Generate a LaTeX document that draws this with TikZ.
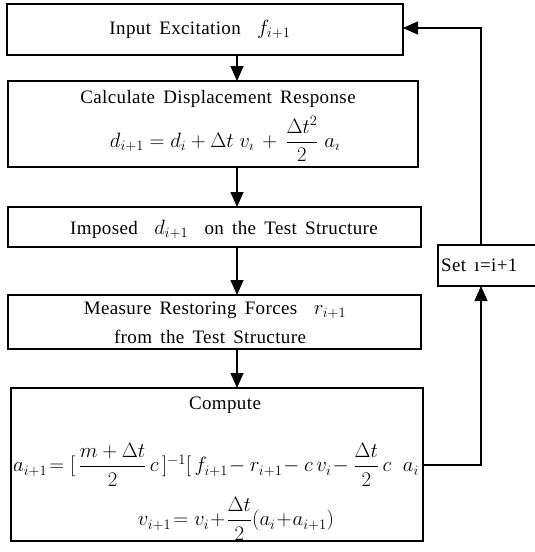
\documentclass[tikz,border=0pt]{standalone}
\usepackage{amsmath}
\usepackage{fontspec}
\setmainfont{Liberation Serif}[LetterSpace=2,WordSpace=1.6]
\usetikzlibrary{arrows.meta}
\newcommand{\mybigmath}[1]{{\fontsize{21}{24}\selectfont$#1$}}
\begin{document}
\begin{tikzpicture}[x=1pt,y=-1pt,
  box/.style={draw, line width=1.5pt, rectangle, inner sep=0pt, outer sep=0pt, anchor=north west},
  txt/.style={inner sep=0pt, font=\fontsize{19}{22}\selectfont},
  eq/.style={inner sep=0pt, font=\fontsize{21.5}{24}\selectfont},
  flow/.style={line width=1.4pt, -{Triangle[length=15pt,width=13pt]}},
  loop/.style={line width=1.1pt, -{Triangle[length=15pt,width=13pt]}}]
\useasboundingbox (0,0) rectangle (535,552);
% boxes
\node[box, minimum width=396pt, minimum height=51pt] (b1) at (7,4) {};
\node[box, minimum width=410pt, minimum height=86pt] (b2) at (8,81) {};
\node[box, minimum width=413pt, minimum height=40pt] (b3) at (8,207) {};
\node[box, minimum width=413pt, minimum height=54pt] (b4) at (8,295) {};
\node[box, minimum width=412pt, minimum height=153pt] (b5) at (11,388) {};
\node[box, minimum width=110pt, minimum height=41pt] (set) at (438,245) {};
% texts
\node[txt] (t1) at (200,29) {Input Excitation\ \ \mybigmath{f_{i+1}}};
\node[txt] (t2a) at (218,99) {Calculate Displacement Response};
\node[eq] (t2b) at (225,139) {$d_{i+1}= d_i+\Delta t\;v_\imath\,+\,\dfrac{\Delta t^2}{2}\;a_\imath$};
\node[txt] (t3) at (224,229) {Imposed\ \ \mybigmath{d_{i+1}}\ \ on the Test Structure};
\node[txt] (t4a) at (215,310) {Measure Restoring Forces\ \ \mybigmath{r_{i+1}}};
\node[txt] (t4b) at (210,337) {from the Test Structure};
\node[txt] (t5a) at (225,405) {Compute};
\node[eq] (t5b) at (216,465) {$a_{i+1}\!=[\,\dfrac{m+\Delta t}{2}\,c\,]^{-1}[\,f_{i+1}\!-r_{i+1}\!-c\,v_i\!-\dfrac{\Delta t}{2}\,c\;\;a_i$};
\node[eq] (t5c) at (236,519) {$v_{i+1}\!=v_i\!+\!\dfrac{\Delta t}{2}(a_i\!+\!a_{i+1})$};
\node[txt, anchor=west] (t6) at (441,265) {Set ı=i+1};
% connectors
\draw[flow] (b1.south -| 237,0) -- (b2.north -| 237,0);
\draw[flow] (b2.south -| 237,0) -- (b3.north -| 237,0);
\draw[flow] (b3.south -| 237,0) -- (b4.north -| 237,0);
\draw[flow] (b4.south -| 237,0) -- (b5.north -| 237,0);
\coordinate (c1) at (481,465);
\coordinate (c2) at (481,28);
\draw[loop] (b5.east |- c1) -- (c1) -- (set.south -| c1);
\draw[loop] (set.north -| c2) -- (c2) -- (b1.east |- c2);
\end{tikzpicture}
\end{document}
